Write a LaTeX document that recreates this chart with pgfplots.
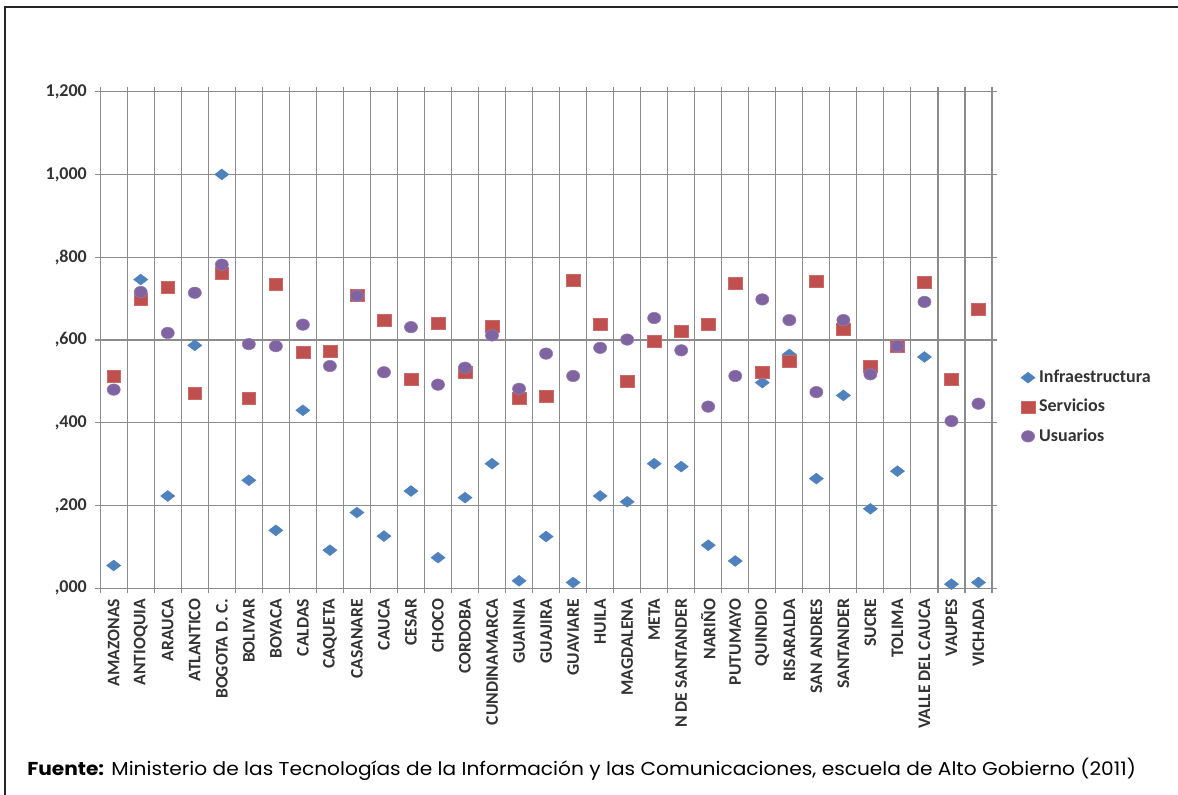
\documentclass[border=0pt]{standalone}
\usepackage{fontspec}
\setmainfont{Carlito}
\newfontfamily\poppins{Poppins}
\usepackage{pgfplots}
\pgfplotsset{compat=1.18}
\usepackage{pgfplotstable}
\definecolor{infra}{HTML}{4F81BD}
\definecolor{serv}{HTML}{C0504D}
\definecolor{usr}{HTML}{8064A2}
\definecolor{gridc}{HTML}{8C8C8C}
\definecolor{txt}{HTML}{333333}

\pgfplotstableread{
x infra serv usr
0 0.055 0.512 0.480
1 0.746 0.699 0.716
2 0.223 0.727 0.617
3 0.587 0.471 0.714
4 1.000 0.760 0.782
5 0.261 0.460 0.590
6 0.140 0.734 0.585
7 0.430 0.571 0.637
8 0.092 0.573 0.537
9 0.183 0.707 0.707
10 0.126 0.647 0.522
11 0.235 0.506 0.631
12 0.074 0.640 0.492
13 0.219 0.523 0.533
14 0.301 0.633 0.611
15 0.018 0.460 0.482
16 0.125 0.463 0.567
17 0.014 0.744 0.513
18 0.223 0.637 0.581
19 0.209 0.500 0.601
20 0.301 0.597 0.653
21 0.294 0.620 0.575
22 0.104 0.637 0.439
23 0.066 0.736 0.513
24 0.497 0.521 0.698
25 0.565 0.549 0.648
26 0.265 0.742 0.474
27 0.466 0.627 0.648
28 0.192 0.537 0.517
29 0.283 0.585 0.585
30 0.559 0.740 0.692
31 0.010 0.505 0.404
32 0.014 0.674 0.446
}\datatable

\begin{document}
\begin{tikzpicture}
\useasboundingbox (0,0) rectangle (883.5pt,595.5pt);
\fill[white] (0,0) rectangle (883.5pt,595.5pt);
\draw[line width=1.5pt, black!85] (4.1pt,-5pt) -- (4.1pt,590.25pt) -- (900pt,590.25pt);
\begin{axis}[
  at={(75.15pt,154.3pt)}, anchor=south west,
  scale only axis, width=668.85pt, height=372.45pt,
  xmin=-0.5, xmax=32.5, ymin=0, ymax=1.2,
  xtick={0,...,32},
  xticklabels={AMAZONAS,ANTIOQUIA,ARAUCA,ATLANTICO,BOGOTA D. C.,BOLIVAR,BOYACA,CALDAS,CAQUETA,CASANARE,CAUCA,CESAR,CHOCO,CORDOBA,CUNDINAMARCA,GUAINIA,GUAJIRA,GUAVIARE,HUILA,MAGDALENA,META,N DE SANTANDER,NARIÑO,PUTUMAYO,QUINDIO,RISARALDA,SAN ANDRES,SANTANDER,SUCRE,TOLIMA,VALLE DEL CAUCA,VAUPES,VICHADA},
  minor xtick={-0.5,0.5,...,32.5},
  ytick={0,0.2,0.4,0.6,0.8,1.0,1.2},
  minor ytick={0,0.2,0.4,0.6,0.8,1.0,1.2},
  yticklabels={{,000},{,200},{,400},{,600},{,800},{1,000},{1,200}},
  xminorgrids=true, xmajorgrids=false, ymajorgrids=true,
  grid style={gridc, line width=0.85pt},
  minor grid style={gridc, line width=0.85pt},
  axis line style={gridc, line width=0.85pt},
  tick align=outside,
  major tick length=0pt, minor tick length=3.75pt,
  every tick/.style={gridc, line width=0.85pt},
  xticklabel style={rotate=90, anchor=east, font=\bfseries\fontsize{13.2}{14}\selectfont, text=txt},
  yticklabel style={font=\bfseries\fontsize{13.5}{14}\selectfont, text=txt},
  xticklabel shift=4.5pt,
  yticklabel shift=6.5pt,
  legend style={at={(axis description cs:1,0.365)}, anchor=west, xshift=21.5pt,
    draw=none, fill=none, inner sep=0pt, row sep=9pt,
    font=\bfseries\fontsize{13.5}{16}\selectfont,
    nodes={text height=10pt, text depth=3pt, inner ysep=0pt, inner xsep=3pt, text=txt}},
  legend cell align=left,
  legend image code/.code={\draw[#1] plot coordinates {(0pt,0pt)};},
]
\addplot[only marks, mark=square*, mark size=2.9pt,
  mark options={fill=infra, draw=infra, line width=0.3pt, xscale=1.3, rotate=45}]
  table[x=x, y=infra] {\datatable};
\addlegendentry{Infraestructura}
\addplot[only marks, mark=square*, mark size=4.5pt,
  mark options={fill=serv, draw=serv!85!white, line width=0.4pt, xscale=1.15}]
  table[x=x, y=serv] {\datatable};
\addlegendentry{Servicios}
\addplot[only marks, mark=*, mark size=4.3pt,
  mark options={fill=usr, draw=usr!85!white, line width=0.4pt, xscale=1.15}]
  table[x=x, y=usr] {\datatable};
\addlegendentry{Usuarios}
\end{axis}
\node[anchor=base west, inner sep=0pt] at (20.25pt,14.25pt)
  {\scalebox{1.08}[1]{\poppins\fontsize{14}{16}\selectfont\textbf{Fuente:} Ministerio de las Tecnologías de la Información y las Comunicaciones, escuela de Alto Gobierno (2011)}};
\end{tikzpicture}
\end{document}
